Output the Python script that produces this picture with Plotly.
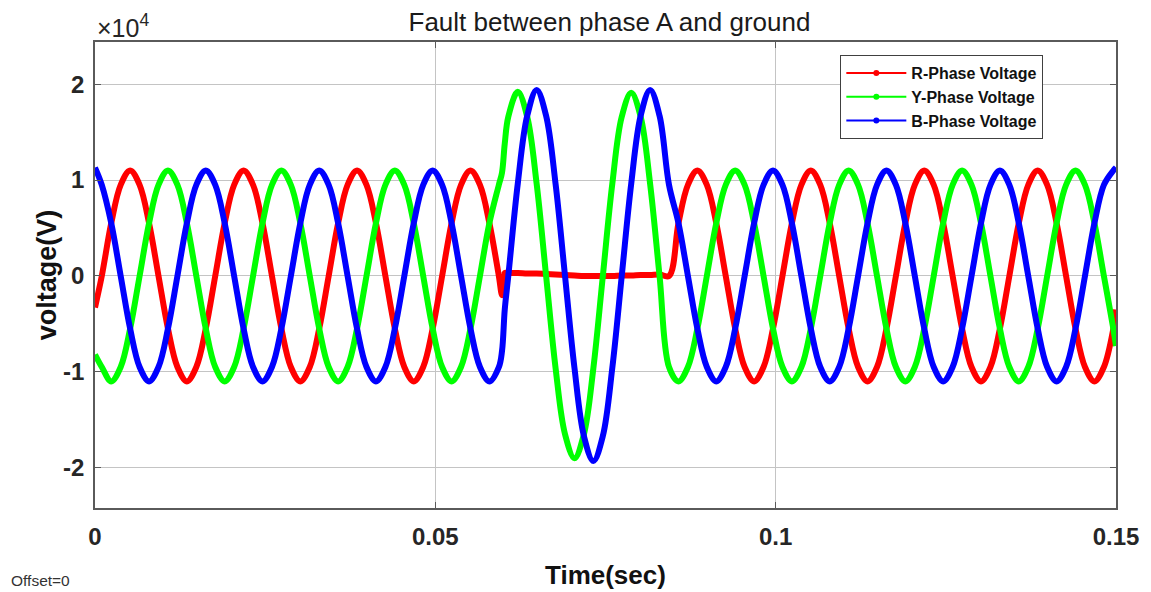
import plotly.graph_objects as go

# ---------------- data (volts) ----------------
# waveform samples every 30 electrical degrees of the 60 Hz supply
SAMPLE_T0 = 0.000997      # s, first sample
SAMPLE_DT = 0.0013889     # s, sample spacing
N_SAMPLES = 108

r_phase = [
    0, 5500, 9500, 11000, 9500, 5500, 0, -5500, -9500, -11000, -9500, -5500,
    0, 5500, 9500, 11000, 9500, 5500, 0, -5500, -9500, -11000, -9500, -5500,
    0, 5500, 9500, 11000, 9500, 5500, 0, -5500, -9500, -11000, -9500, -5500,
    0, 5500, 9500, 11000, 9500, 5500, 0, 300, 300, 250, 250, 200,
    150, 100, 50, 0, 0, 0, 0, 50, 50, 100, 100, 150,
    0, 5500, 9500, 11000, 9500, 5500, 0, -5500, -9500, -11000, -9500, -5500,
    0, 5500, 9500, 11000, 9500, 5500, 0, -5500, -9500, -11000, -9500, -5500,
    0, 5500, 9500, 11000, 9500, 5500, 0, -5500, -9500, -11000, -9500, -5500,
    0, 5500, 9500, 11000, 9500, 5500, 0, -5500, -9500, -11000, -9500, -5500,
]
y_phase = [
    -9500, -11000, -9500, -5500, 0, 5500, 9500, 11000, 9500, 5500, 0, -5500,
    -9500, -11000, -9500, -5500, 0, 5500, 9500, 11000, 9500, 5500, 0, -5500,
    -9500, -11000, -9500, -5500, 0, 5500, 9500, 11000, 9500, 5500, 0, -5500,
    -9500, -11000, -9500, -5500, 0, 5500, 9500, 16600, 19200, 16600, 9600, 0,
    -9600, -16500, -19000, -16500, -9600, 0, 9600, 16600, 19100, 16600, 9600, 0,
    -9500, -11000, -9500, -5500, 0, 5500, 9500, 11000, 9500, 5500, 0, -5500,
    -9500, -11000, -9500, -5500, 0, 5500, 9500, 11000, 9500, 5500, 0, -5500,
    -9500, -11000, -9500, -5500, 0, 5500, 9500, 11000, 9500, 5500, 0, -5500,
    -9500, -11000, -9500, -5500, 0, 5500, 9500, 11000, 9500, 5500, 0, -5500,
]
b_phase = [
    9500, 5500, 0, -5500, -9500, -11000, -9500, -5500, 0, 5500, 9500, 11000,
    9500, 5500, 0, -5500, -9500, -11000, -9500, -5500, 0, 5500, 9500, 11000,
    9500, 5500, 0, -5500, -9500, -11000, -9500, -5500, 0, 5500, 9500, 11000,
    9500, 5500, 0, -5500, -9500, -11000, -9500, 0, 9600, 16700, 19400, 16700,
    9600, 0, -9600, -16700, -19300, -16700, -9600, 0, 9600, 16700, 19400, 16700,
    9500, 5500, 0, -5500, -9500, -11000, -9500, -5500, 0, 5500, 9500, 11000,
    9500, 5500, 0, -5500, -9500, -11000, -9500, -5500, 0, 5500, 9500, 11000,
    9500, 5500, 0, -5500, -9500, -11000, -9500, -5500, 0, 5500, 9500, 11000,
    9500, 5500, 0, -5500, -9500, -11000, -9500, -5500, 0, 5500, 9500, 11000,
]

# extra points: start, fault inception (two sides), end
event_time = [0.0, 0.0598, 0.0602, 0.15]
event_r = [-3300, -2000, 300, -3500]
event_y = [-8200, 10800, 13800, -7300]
event_b = [11300, -7800, -3500, 11300]

series_names = ["R-Phase Voltage", "Y-Phase Voltage", "B-Phase Voltage"]
series_colors = ["#ff0000", "#00ff00", "#0000ff"]

x_tick_vals = [0, 0.05, 0.1, 0.15]
x_tick_text = ["0", "0.05", "0.1", "0.15"]
y_tick_vals = [-20000, -10000, 0, 10000, 20000]
y_tick_text = ["-2", "-1", "0", "1", "2"]

# ---------------- build ----------------
time = [SAMPLE_T0 + i * SAMPLE_DT for i in range(N_SAMPLES)]


def merged(vals, ev):
    pts = sorted(list(zip(time, vals)) + list(zip(event_time, ev)))
    return [p[0] for p in pts], [p[1] for p in pts]


FONT = "Liberation Sans, Arial, Helvetica, sans-serif"
fig = go.Figure()

for vals, ev, name, col in zip([r_phase, y_phase, b_phase],
                               [event_r, event_y, event_b],
                               series_names, series_colors):
    xs, ys = merged(vals, ev)
    fig.add_trace(go.Scatter(x=xs, y=ys, mode="lines", name=name,
                             line=dict(color=col, width=6, shape="spline", smoothing=1.0),
                             showlegend=False, hoverinfo="skip"))

# legend entries (thin line with dot, like the reference legend)
for i, (name, col) in enumerate(zip(series_names, series_colors)):
    fig.add_trace(go.Scatter(x=[None], y=[None], mode="lines+markers", name=name,
                             legendgroup=f"g{i}",
                             line=dict(color=col, width=2),
                             marker=dict(color=col, size=6, symbol="circle")))

axis_common = dict(showgrid=True, gridcolor="#c4c4c4", gridwidth=1,
                   showline=True, linecolor="#5a5a5a", linewidth=1.5, mirror="ticks",
                   ticks="inside", ticklen=6, tickcolor="#5a5a5a", zeroline=False,
                   tickfont=dict(family=FONT, size=24, color="#262626", weight="bold"))

fig.update_layout(
    width=1151, height=592, autosize=False,
    margin=dict(l=95, r=27, t=42, b=84),
    paper_bgcolor="white", plot_bgcolor="white",
    title=dict(text="Fault between phase A and ground", x=0.5295, xanchor="center",
               y=(592 - 22) / 592, yanchor="middle", yref="container",
               font=dict(family=FONT, size=26, color="#1a1a1a")),
    xaxis=dict(range=[0, 0.15], tickvals=x_tick_vals, ticktext=x_tick_text,
               ticklabelstandoff=6, **axis_common),
    yaxis=dict(range=[-24200, 24400], tickvals=y_tick_vals, ticktext=y_tick_text,
               ticklabelstandoff=4, **axis_common),
    legend=dict(x=0.73, y=0.972, xanchor="left", yanchor="top",
                bgcolor="white", bordercolor="#404040", borderwidth=1,
                font=dict(family=FONT, size=16, color="#111111", weight="bold"),
                itemwidth=60, tracegroupgap=0),
    showlegend=True,
)

fig.add_annotation(text="voltage(V)", textangle=-90, xref="paper", yref="paper",
                   x=(47 - 95) / 1029, y=0.5, xanchor="center", yanchor="middle",
                   showarrow=False,
                   font=dict(family=FONT, size=27, color="#111111", weight="bold"))
fig.add_annotation(text="Time(sec)", xref="paper", yref="paper",
                   x=(609 - 95) / 1029, y=(508 - 575) / 466, xanchor="center", yanchor="middle",
                   showarrow=False,
                   font=dict(family=FONT, size=26, color="#111111", weight="bold"))
fig.add_annotation(text="×10<sup>4</sup>", xref="paper", yref="paper",
                   x=0.0, y=(508 - 26) / 466, xanchor="left", yanchor="middle",
                   showarrow=False,
                   font=dict(family=FONT, size=25, color="#262626"))
fig.add_annotation(text="Offset=0", xref="paper", yref="paper",
                   x=(8 - 95) / 1029, y=(508 - 580) / 466, xanchor="left", yanchor="middle",
                   showarrow=False,
                   font=dict(family=FONT, size=15.5, color="#333333"))

fig.write_html("out.html", config={"displayModeBar": False},
               post_script="document.body.style.margin='0';document.body.style.overflow='hidden';")
